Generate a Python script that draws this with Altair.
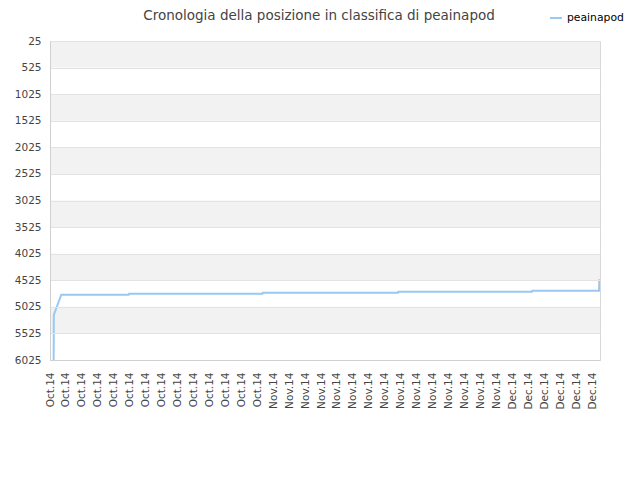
import altair as alt
import pandas as pd

# --- data ---
dates = [
    "2014-10-05T11:00:00", "2014-10-05T11:30:00", "2014-10-06T10:00:00",
    "2014-10-14T21:00:00", "2014-10-14T22:00:00",
    "2014-10-31T16:00:00", "2014-10-31T17:00:00",
    "2014-11-17T16:00:00", "2014-11-17T17:00:00",
    "2014-12-04T11:00:00", "2014-12-04T12:00:00",
    "2014-12-12T21:00:00", "2014-12-12T22:00:00",
]
ranks = [6025, 5178, 4797, 4797, 4778, 4778, 4759, 4759, 4740, 4740, 4722, 4722, 4507]
series_name = "peainapod"

y_ticks = [25, 525, 1025, 1525, 2025, 2525, 3025, 3525, 4025, 4525, 5025, 5525, 6025]
band_start = [25, 1025, 2025, 3025, 4025, 5025]
band_end = [525, 1525, 2525, 3525, 4525, 5525]

tick_days = [
    (10, 5), (10, 7), (10, 9), (10, 11), (10, 13), (10, 15), (10, 17), (10, 19),
    (10, 21), (10, 23), (10, 25), (10, 27), (10, 29), (10, 31),
    (11, 2), (11, 4), (11, 6), (11, 8), (11, 10), (11, 12), (11, 14), (11, 16),
    (11, 18), (11, 20), (11, 22), (11, 24), (11, 26), (11, 28), (11, 30),
    (12, 2), (12, 4), (12, 6), (12, 8), (12, 10), (12, 12),
]

title_text = "Cronologia della posizione in classifica di peainapod"

df = pd.DataFrame({"date": dates, "rank": ranks, "series": series_name})
bands = pd.DataFrame({"y0": band_start, "y1": band_end})

FONT = "DejaVu Sans"
LINE_COLOR = "#99c8f3"
GRID = "#e3e3e3"

yscale = alt.Scale(domain=[25, 6025], reverse=True, zero=False, nice=False)
xscale = alt.Scale(domain=[alt.DateTime(year=2014, month=10, date=5),
                           alt.DateTime(year=2014, month=12, date=13)])

yaxis = alt.Axis(values=y_ticks, format="d", title=None, grid=True, gridColor=GRID, ticks=False,
                 labelFont=FONT, labelFontSize=10.5, labelColor="#444444",
                 labelPadding=9, domainColor="#d0d0d0", zindex=1)
xaxis = alt.Axis(values=[alt.DateTime(year=2014, month=m, date=d) for m, d in tick_days],
                 format="%b.%y", labelAngle=270, title=None, grid=False, ticks=False,
                 labelFont=FONT, labelFontSize=10.5, labelColor="#444444",
                 labelPadding=12, labelOverlap=False, domainColor="#d0d0d0", zindex=1)

rect = alt.Chart(bands).mark_rect(color="#f2f2f2").encode(
    y=alt.Y("y0:Q", scale=yscale, axis=yaxis),
    y2="y1:Q",
    x=alt.value(0),
    x2=alt.value(550),
)

line = alt.Chart(df).mark_line(strokeWidth=2, clip=True).encode(
    x=alt.X("date:T", scale=xscale, axis=xaxis),
    y=alt.Y("rank:Q", scale=yscale, axis=yaxis),
    color=alt.Color("series:N", scale=alt.Scale(range=[LINE_COLOR]),
                    legend=alt.Legend(title=None, orient="none", legendX=499, legendY=-30,
                                      symbolType="stroke", symbolSize=144,
                                      symbolStrokeWidth=2, labelFont=FONT,
                                      labelFontSize=10.8, labelColor="#000000")),
)

chart = alt.layer(rect, line).properties(
    width=550, height=319,
    autosize="none",
    padding={"left": 42, "top": 33, "right": 30, "bottom": 90},
    title=alt.Title(title_text, anchor="middle", font=FONT, fontSize=13.5,
                    fontWeight="normal", color="#444444", offset=-11, dx=-6),
).configure_view(stroke="#d8d8d8")

chart.save("out.html", embed_options={"renderer": "svg", "actions": False})
